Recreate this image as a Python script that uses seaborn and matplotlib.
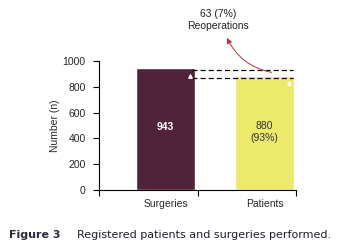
import numpy as np
import pandas as pd
import matplotlib
matplotlib.use("Agg")
import matplotlib.pyplot as plt
import seaborn as sns

# data
categories = ["Surgeries", "Patients"]
counts = [943, 880]
bar_labels = ["943", "880\n(93%)"]
bar_colors = ["#4F2339", "#EDE96A"]
dash_levels = [928, 866]
marker_levels = [884, 829]
reop_label = "63 (7%)\nReoperations"
y_ticks = [0, 200, 400, 600, 800, 1000]

sns.set_theme(style="ticks")
plt.rcParams["font.family"] = ["Liberation Sans", "DejaVu Sans"]

df = pd.DataFrame({"cat": categories, "n": counts})

fig = plt.figure(figsize=(3.48, 2.49), dpi=100)
ax = fig.add_axes([0.284, 0.237, 0.567, 0.518])

sns.barplot(data=df, x="cat", y="n", hue="cat", palette=bar_colors,
            width=0.6, saturation=1, legend=False, ax=ax)

ax.set_xlim(-0.672, 1.318)
ax.set_ylim(0, 1000)
ax.set_yticks(y_ticks)
ax.set_yticklabels([str(t) for t in y_ticks], fontsize=7.5)
ax.set_xticks([0, 1])
ax.set_xticklabels(categories, fontsize=7.5)
ax.tick_params(axis="x", length=0, pad=6.5)
ax.set_xticks([-0.672, 0.33, 1.318], minor=True)
ax.tick_params(axis="x", which="minor", length=4, width=0.8, color="black")
ax.tick_params(axis="y", length=4, width=0.8, color="black", pad=5.5)
ax.set_xlabel("")
ax.set_ylabel("Number (n)", fontsize=7.5, labelpad=2)
sns.despine(ax=ax)
for s in ["left", "bottom"]:
    ax.spines[s].set_color("black")
    ax.spines[s].set_linewidth(0.8)

# labels inside bars
ax.text(0, 490, bar_labels[0], ha="center", va="center", color="white",
        fontsize=7.5, fontweight="bold")
ax.text(1, 450, bar_labels[1], ha="center", va="center", color="#333333",
        fontsize=7.5, linespacing=1.2)

# dashed reference lines between bars
for lvl in dash_levels:
    ax.plot([0.27, 1.29], [lvl, lvl], color="black", lw=0.9, ls=(0, (4, 2.5)),
            clip_on=False)

# small white triangles
ax.scatter([0.25, 1.25], marker_levels, marker="^", s=6, color="white",
           zorder=5)

# reoperation annotation
ax.text(0.53, 1320, reop_label, ha="center", va="center", fontsize=7.5,
        color="#222222", clip_on=False)
ax.annotate("", xy=(0.62, 1180), xytext=(1.07, 912), annotation_clip=False,
            arrowprops=dict(arrowstyle="-|>", color="#B5323A", lw=0.7,
                            mutation_scale=8, shrinkA=0, shrinkB=0,
                            connectionstyle="arc3,rad=-0.25"))

# caption
fig.text(0.026, 0.045, "Figure 3", fontsize=8, fontweight="bold",
         color="#2B2B3A", family="DejaVu Sans")
fig.text(0.221, 0.045, "Registered patients and surgeries performed.",
         fontsize=8, color="#1F1F2A", family="DejaVu Sans")

fig.savefig("out.png", dpi=100)
